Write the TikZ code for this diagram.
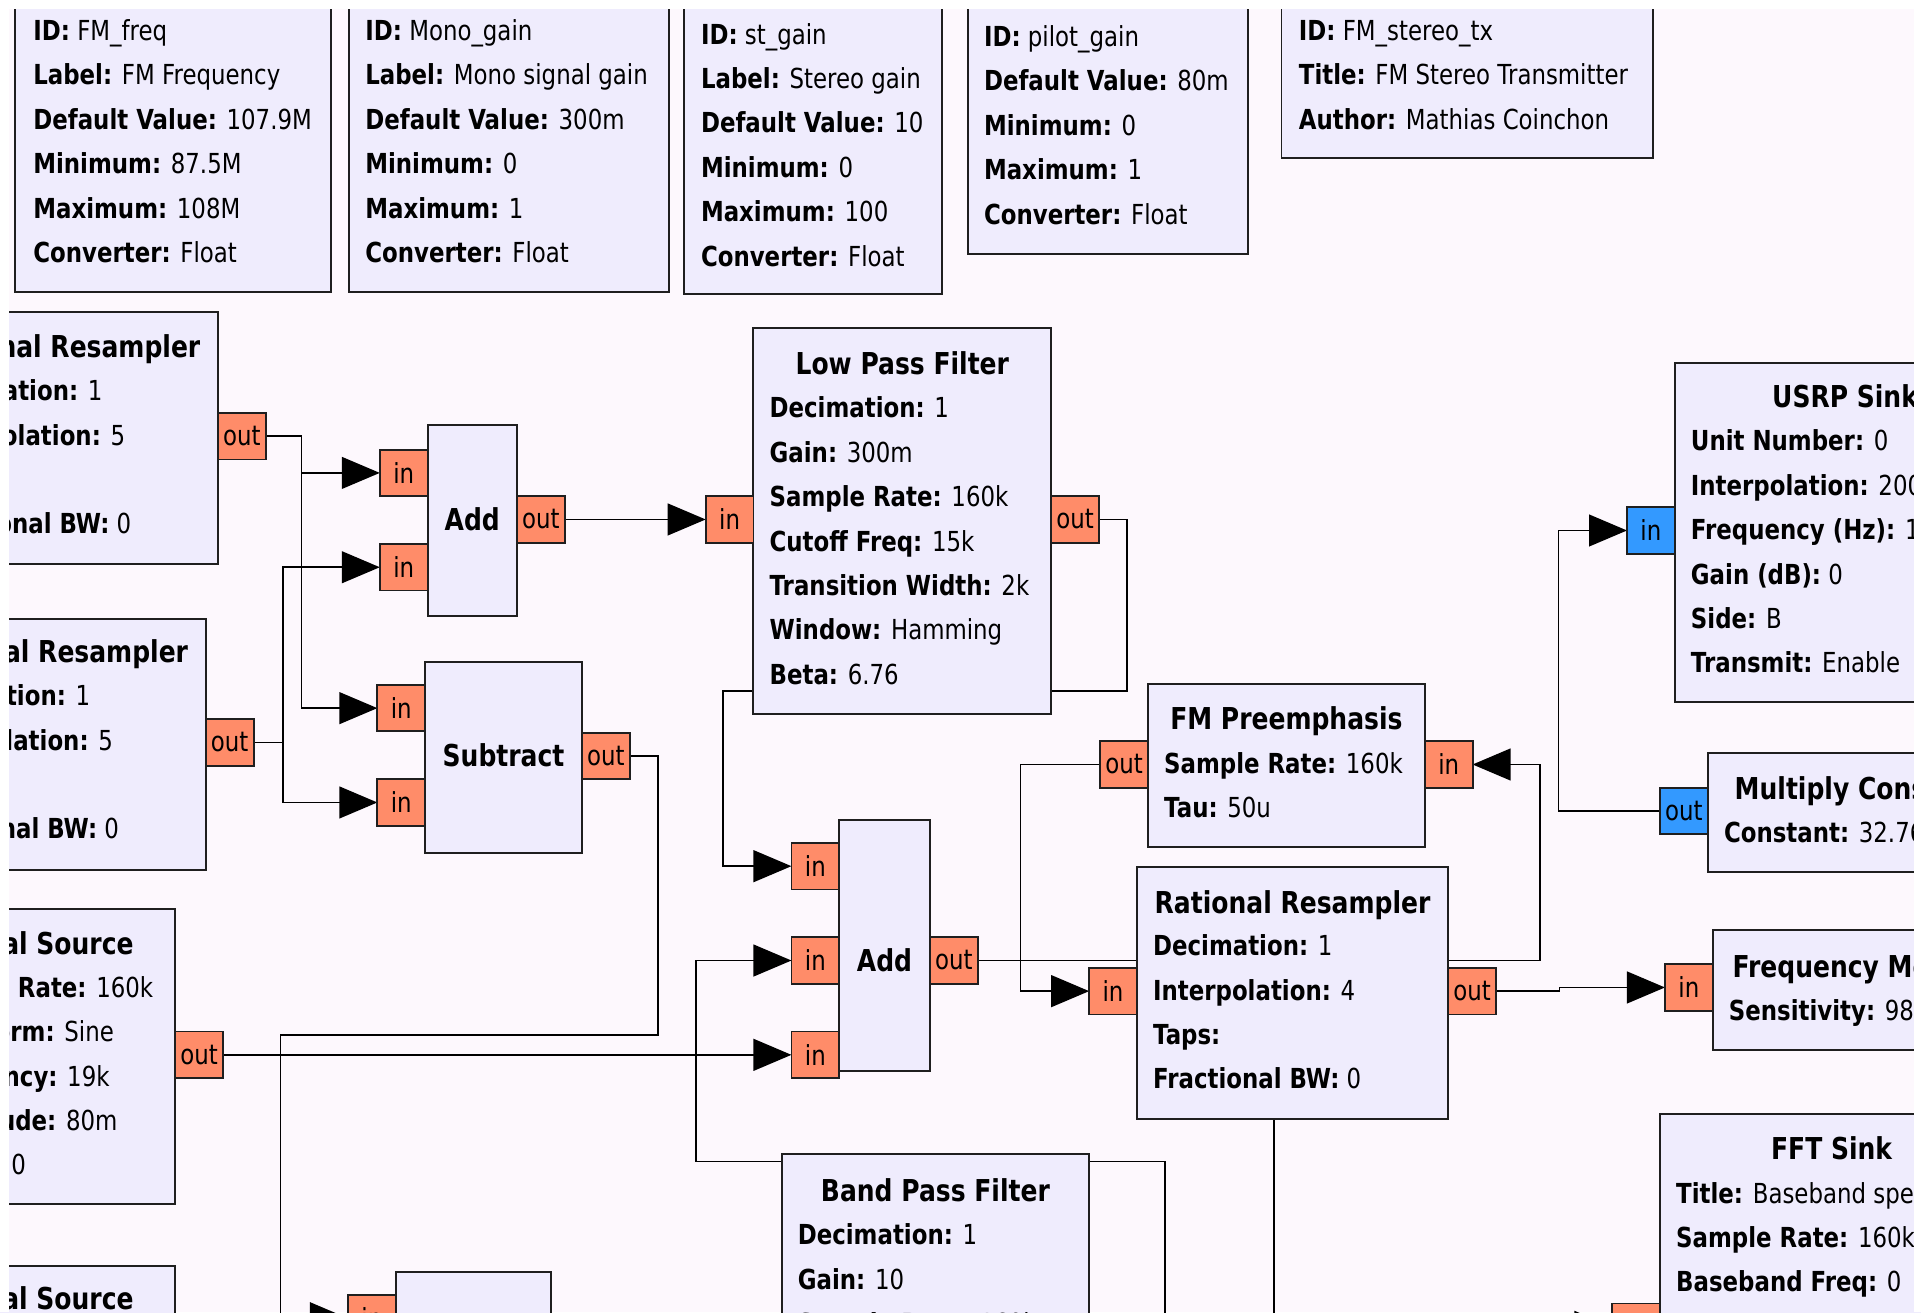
\documentclass[tikz,border=0pt]{standalone}
\usepackage{fontspec}
\setmainfont{DejaVu Sans}[FakeStretch=0.83]
\usetikzlibrary{arrows.meta}
\definecolor{canvasbg}{RGB}{253,248,253}
\definecolor{blockfill}{RGB}{239,236,253}
\definecolor{portor}{RGB}{255,140,105}
\definecolor{portbl}{RGB}{51,153,255}
\pgfdeclarelayer{canvas}\pgfdeclarelayer{lines}\pgfdeclarelayer{top}
\pgfsetlayers{canvas,lines,main,top}
\newcommand\prmfont{\fontsize{22.5}{27}\selectfont}
\newcommand\ttlfont{\fontsize{24.6}{29}\selectfont\bfseries}
\tikzset{
 blk/.style={draw=black!88, line width=1.6pt, fill=blockfill, inner sep=0pt, outer sep=0pt, anchor=north west},
 prt/.style={draw=black!88, line width=1.5pt, fill=portor, inner sep=0pt, outer sep=0pt, minimum width=39pt, minimum height=38pt, font=\prmfont},
 cprt/.style={prt, fill=portbl},
 wire/.style={line width=1.3pt, draw=black},
 arr/.style={wire, -{Triangle[length=31pt,width=26pt]}},
 ttl/.style={font=\ttlfont, inner sep=0pt, anchor=base},
 prm/.style={font=\prmfont, inner sep=0pt, anchor=base west},
}
\newcommand\blockbox[5]{\node[blk, minimum width={(#4)-(#2)}, minimum height={(#5)-(#3)}] (#1) at (#2,#3) {};}
\newcommand\plines[4]{\foreach \t [count=\i] in {#4}{\node[prm] (#1-\i) at (#2,{#3+8+36.25*(\i-1)}) {\t};}}
\newcommand\ttlat[4]{\node[ttl] (#1) at (#2,{#3+8.7}) {#4};}
\begin{document}
\begin{tikzpicture}[x=1pt,y=-1pt]
\useasboundingbox (0,0) rectangle (1568,1071);
\begin{pgfonlayer}{canvas}
\fill[canvasbg] (0,0) rectangle (1568,1071);
\end{pgfonlayer}

% ---- variable blocks (top row)
\blockbox{vfreq}{12}{-20}{270}{238}
\plines{vfreqT}{27}{25}{\textbf{ID:} FM\_freq, \textbf{Label:} FM Frequency, \textbf{Default Value:} 107.9M, \textbf{Minimum:} 87.5M, \textbf{Maximum:} 108M, \textbf{Converter:} Float}
\blockbox{vmono}{285}{-20}{546}{238}
\plines{vmonoT}{298}{25}{\textbf{ID:} Mono\_gain, \textbf{Label:} Mono signal gain, \textbf{Default Value:} 300m, \textbf{Minimum:} 0, \textbf{Maximum:} 1, \textbf{Converter:} Float}
\blockbox{vst}{558}{-20}{769}{240}
\plines{vstT}{572}{28}{\textbf{ID:} st\_gain, \textbf{Label:} Stereo gain, \textbf{Default Value:} 10, \textbf{Minimum:} 0, \textbf{Maximum:} 100, \textbf{Converter:} Float}
\blockbox{vpilot}{790}{-20}{1019}{207}
\plines{vpilotT}{803}{30}{\textbf{ID:} pilot\_gain, \textbf{Default Value:} 80m, \textbf{Minimum:} 0, \textbf{Maximum:} 1, \textbf{Converter:} Float}
\blockbox{opts}{1046}{-20}{1349}{129}
\plines{optsT}{1060}{25}{\textbf{ID:} FM\_stereo\_tx, \textbf{Title:} FM Stereo Transmitter, \textbf{Author:} Mathias Coinchon}

% ---- rational resamplers (left)
\blockbox{rr1}{-76}{255}{178}{460}
\ttlat{rr1N}{51}{283}{Rational Resampler}
\plines{rr1T}{-63}{319}{\textbf{Decimation:} 1, \textbf{Interpolation:} 5, \textbf{Taps:}, \textbf{Fractional BW:} 0}
\node[prt, anchor=west] (rr1o) at (178,356) {out};

\blockbox{rr2}{-86}{505}{168}{710}
\ttlat{rr2N}{41}{532}{Rational Resampler}
\plines{rr2T}{-73}{568}{\textbf{Decimation:} 1, \textbf{Interpolation:} 5, \textbf{Taps:}, \textbf{Fractional BW:} 0}
\node[prt, anchor=west] (rr2o) at (168,606) {out};

% ---- Add 1
\blockbox{add1}{349}{347}{422}{503}
\ttlat{add1N}{385.5}{424}{Add}
\node[prt, anchor=east] (add1i1) at (349,386) {in};
\node[prt, anchor=east] (add1i2) at (349,463) {in};
\node[prt, anchor=west] (add1o) at (422,424) {out};

% ---- Subtract
\blockbox{sub}{347}{540}{475}{696}
\ttlat{subN}{411}{617}{Subtract}
\node[prt, anchor=east] (subi1) at (347,578) {in};
\node[prt, anchor=east] (subi2) at (347,655) {in};
\node[prt, anchor=west] (subo) at (475,617) {out};

% ---- Low Pass Filter
\blockbox{lpf}{615}{268}{858}{583}
\ttlat{lpfN}{736.5}{297}{Low Pass Filter}
\plines{lpfT}{628}{333}{\textbf{Decimation:} 1, \textbf{Gain:} 300m, \textbf{Sample Rate:} 160k, \textbf{Cutoff Freq:} 15k, \textbf{Transition Width:} 2k, \textbf{Window:} Hamming, \textbf{Beta:} 6.76}
\node[prt, anchor=east] (lpfi) at (615,424) {in};
\node[prt, anchor=west] (lpfo) at (858,424) {out};

% ---- Add 2
\blockbox{add2}{685}{669}{759}{874}
\ttlat{add2N}{722}{784}{Add}
\node[prt, anchor=east] (add2i1) at (685,707) {in};
\node[prt, anchor=east] (add2i2) at (685,784) {in};
\node[prt, anchor=east] (add2i3) at (685,861) {in};
\node[prt, anchor=west] (add2o) at (759,784) {out};

% ---- FM Preemphasis (flipped)
\blockbox{fmp}{937}{558}{1163}{691}
\ttlat{fmpN}{1050}{587}{FM Preemphasis}
\plines{fmpT}{950}{623}{\textbf{Sample Rate:} 160k, \textbf{Tau:} 50u}
\node[prt, anchor=east] (fmpo) at (937,624) {out};
\node[prt, anchor=west] (fmpi) at (1163,624) {in};

% ---- Rational Resampler (right)
\blockbox{rr3}{928}{708}{1182}{913}
\ttlat{rr3N}{1055}{737}{Rational Resampler}
\plines{rr3T}{941}{772}{\textbf{Decimation:} 1, \textbf{Interpolation:} 4, \textbf{Taps:}, \textbf{Fractional BW:} 0}
\node[prt, anchor=east] (rr3i) at (928,809) {in};
\node[prt, anchor=west] (rr3o) at (1182,809) {out};

% ---- USRP Sink
\blockbox{usrp}{1367}{296}{1645}{573}
\ttlat{usrpN}{1506}{324}{USRP Sink}
\plines{usrpT}{1380}{360}{\textbf{Unit Number:} 0, \textbf{Interpolation:} 200, \textbf{Frequency (Hz):} 107.9M, \textbf{Gain (dB):} 0, \textbf{Side:} B, \textbf{Transmit:} Enable}
\node[cprt, anchor=east] (usrpi) at (1367,433) {in};

% ---- Multiply Const (flipped)
\blockbox{mulc}{1394}{615}{1604}{712}
\ttlat{mulcN}{1499}{644}{Multiply Const}
\plines{mulcT}{1407}{680}{\textbf{Constant:} 32.768k}
\node[cprt, anchor=east] (mulco) at (1394,662) {out};

% ---- Frequency Mod
\blockbox{fm}{1398}{759}{1606}{857}
\ttlat{fmN}{1502}{789}{Frequency Mod}
\plines{fmT}{1411}{825}{\textbf{Sensitivity:} 980m}
\node[prt, anchor=east] (fmi) at (1398,806) {in};

% ---- FFT Sink
\blockbox{fft}{1355}{909}{1635}{1200}
\ttlat{fftN}{1495}{938}{FFT Sink}
\plines{fftT}{1368}{974}{\textbf{Title:} Baseband spectrum, \textbf{Sample Rate:} 160k, \textbf{Baseband Freq:} 0}
\node[prt, anchor=east] (ffti) at (1355,1083) {in};

% ---- Band Pass Filter
\blockbox{bpf}{638}{942}{889}{1200}
\ttlat{bpfN}{763.5}{972}{Band Pass Filter}
\plines{bpfT}{651}{1008}{\textbf{Decimation:} 1, \textbf{Gain:} 10, \textbf{Sample Rate:} 160k}

% ---- Signal Sources
\blockbox{ss1}{-83}{742}{143}{983}
\ttlat{ss1N}{30}{770}{Signal Source}
\plines{ss1T}{-70}{806}{\textbf{Sample Rate:} 160k, \textbf{Waveform:} Sine, \textbf{Frequency:} 19k, \textbf{Amplitude:} 80m, \textbf{Offset:} 0}
\node[prt, anchor=west] (ss1o) at (143,861) {out};

\blockbox{ss2}{-83}{1033}{143}{1250}
\ttlat{ss2N}{30}{1060}{Signal Source}

% ---- small block at the bottom
\blockbox{sb}{323}{1038}{450}{1250}
\node[prt, anchor=east] (sbi) at (323,1076) {in};

% ---- connections
\begin{pgfonlayer}{lines}
\draw[arr] (rr1o.east) -- (246,356) |- (add1i1.west);
\draw[arr] (rr1o.east) -- (246,356) |- (subi1.west);
\draw[arr] (rr2o.east) -- (231,606) |- (add1i2.west);
\draw[arr] (rr2o.east) -- (231,606) |- (subi2.west);
\draw[arr] (add1o.east) -- (lpfi.west);
\draw[arr] (lpfo.east) -- (920,424) -- (920,564) -- (590,564) |- (add2i1.west);
\draw[arr] (subo.east) -- (537,617) -- (537,845) -- (229,845) |- (sbi.west);
\draw[arr] (ss1o.east) -- (add2i3.west);
\coordinate (bpfsrc) at (951,1130);
\draw[arr] (bpfsrc) -- (951,948) -- (568,948) |- (add2i2.west);
\draw[arr] (add2o.east) -- (1257,784) |- (fmpi.east);
\draw[arr] (fmpo.west) -- (833,624) |- (rr3i.west);
\draw[arr] (rr3o.east) -- (1273,809) -- (1273,806) -- (fmi.west);
\draw[arr] (add2o.east) -- (1040,784) |- (ffti.west);
\draw[arr] (mulco.west) -- (1272,662) |- (usrpi.west);
\end{pgfonlayer}

\begin{pgfonlayer}{top}
\fill[white] (0,0) rectangle (1568,7);
\fill[white] (0,0) rectangle (7,1071);
\fill[white] (1562,0) rectangle (1568,1071);
\end{pgfonlayer}
\end{tikzpicture}
\end{document}
